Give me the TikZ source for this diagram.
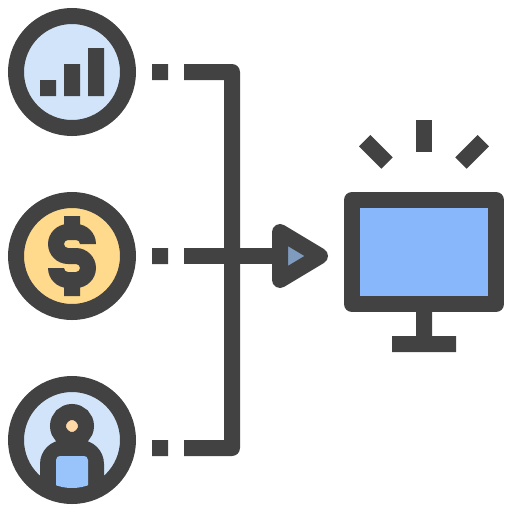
\documentclass[tikz,border=0pt]{standalone}
\definecolor{ink}{HTML}{424242}
\definecolor{paleblue}{HTML}{D2E4F9}
\definecolor{coin}{HTML}{FFD98C}
\definecolor{screen}{HTML}{88B8FB}
\definecolor{shirt}{HTML}{99C4FB}
\definecolor{skin}{HTML}{FFD8A8}
\definecolor{tip}{HTML}{7F9CBF}
\tikzset{
  x=1pt,y=-1pt,
  ring/.style={draw=ink,line width=16pt},
  solid ink/.style={fill=ink,draw=none},
  wire/.style={draw=ink,line width=16pt,line cap=butt,line join=miter},
}
\begin{document}
\begin{tikzpicture}
\useasboundingbox (0,0) rectangle (512,512);
\fill[white] (0,0) rectangle (512,512);
% top icon
\draw[ring,fill=paleblue] (72,72) circle[radius=56];
\fill[solid ink] (40,80) rectangle (56,96) (64,64) rectangle (80,96) (88,48) rectangle (104,96);
% coin
\draw[ring,fill=coin] (72,256) circle[radius=56];
\fill[solid ink] (64,216) rectangle (80,232) (64,280) rectangle (80,296);
\fill[solid ink] (96,244) -- (80,244) .. controls (80,241.5) and (78,240) .. (76,240)
  -- (68,240) .. controls (65.8,240) and (64,241.8) .. (64,244)
  .. controls (64,246.2) and (65.8,248) .. (68,248)
  -- (76,248) .. controls (87,248) and (96,257) .. (96,268)
  .. controls (96,279) and (87,288) .. (76,288)
  -- (68,288) .. controls (57,288) and (48,279) .. (48,268)
  -- (64,268) .. controls (64,270.5) and (66,272) .. (68,272)
  -- (76,272) .. controls (78.2,272) and (80,270.2) .. (80,268)
  .. controls (80,265.8) and (78.2,264) .. (76,264)
  -- (68,264) .. controls (57,264) and (48,255) .. (48,244)
  .. controls (48,233) and (57,224) .. (68,224)
  -- (76,224) .. controls (87,224) and (96,233) .. (96,244) -- cycle;
% person
\draw[ring,fill=paleblue] (72,440) circle[radius=56];
\begin{scope}
  \clip (72,440) circle[radius=50];
  \fill[solid ink] (40,500) -- (40,464) .. controls (40,450.7) and (50.7,440) .. (64,440)
    -- (80,440) .. controls (93.3,440) and (104,450.7) .. (104,464) -- (104,500) -- cycle;
\end{scope}
\draw[ring,fill=skin] (72,426) circle[radius=14];
\begin{scope}
  \clip (72,440) circle[radius=48];
  \fill[shirt] (56,500) -- (56,460) .. controls (56,457.2) and (58.2,456) .. (60,456)
    -- (84,456) .. controls (85.8,456) and (88,457.2) .. (88,460) -- (88,500) -- cycle;
\end{scope}
% connectors
\fill[solid ink] (152,64) rectangle (168,80) (152,248) rectangle (168,264) (152,440) rectangle (168,456);
\fill[solid ink] (184,64) -- (232,64) .. controls (236.4,64) and (240,67.6) .. (240,72)
  -- (240,448) .. controls (240,452.4) and (236.4,456) .. (232,456) -- (184,456) -- (184,440)
  -- (224,440) -- (224,80) -- (184,80) -- cycle;
\fill[solid ink] (184,248) rectangle (280,264);
% arrow
\draw[draw=ink,line width=16pt,line join=round,fill=tip] (280,232) -- (320,256) -- (280,280) -- cycle;
% monitor
\draw[ring,line join=round,fill=screen] (352,200) rectangle (496,304);
\fill[solid ink] (416,312) rectangle (432,336) (392,336) rectangle (456,352);
\draw[wire] (424,120) -- (424,152);
\draw[wire] (364.7,140.7) -- (387,163);
\draw[wire] (483.3,140.7) -- (461,163);
\end{tikzpicture}
\end{document}
